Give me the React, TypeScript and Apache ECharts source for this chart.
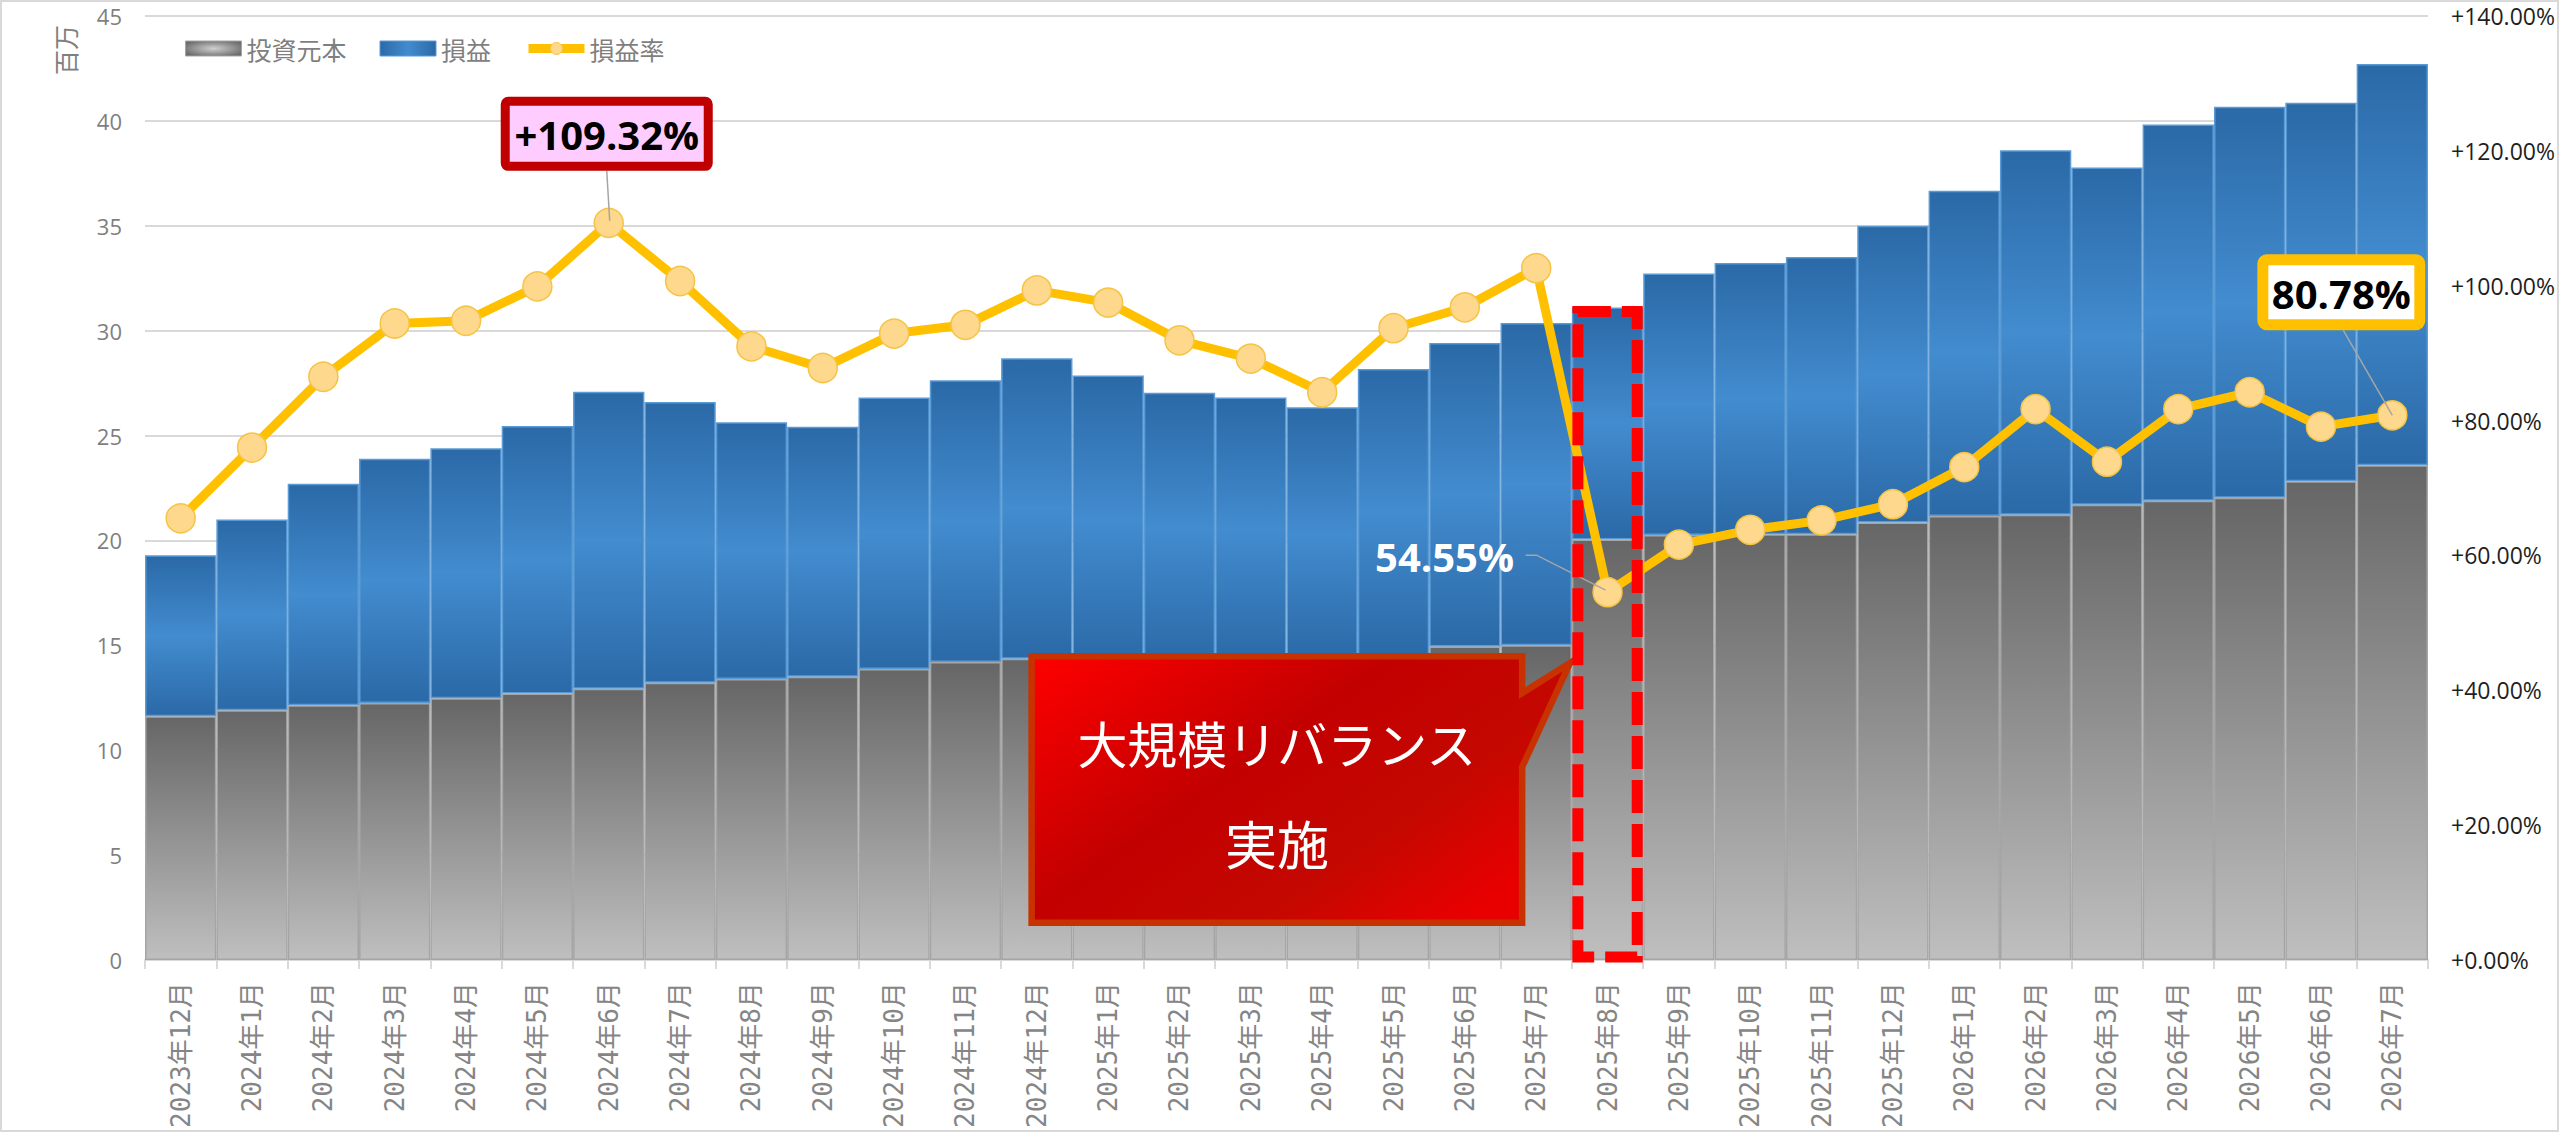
import React, { useEffect, useRef } from "react";
import * as echarts from "echarts";

// ---------- data ----------
const categories = [
  "2023年12月",
  "2024年1月", "2024年2月", "2024年3月", "2024年4月", "2024年5月", "2024年6月",
  "2024年7月", "2024年8月", "2024年9月", "2024年10月", "2024年11月", "2024年12月",
  "2025年1月", "2025年2月", "2025年3月", "2025年4月", "2025年5月", "2025年6月",
  "2025年7月", "2025年8月", "2025年9月", "2025年10月", "2025年11月", "2025年12月",
  "2026年1月", "2026年2月", "2026年3月", "2026年4月", "2026年5月", "2026年6月",
  "2026年7月",
];

// 投資元本 (百万)
const principal = [
  11.62, 11.91, 12.14, 12.25, 12.48, 12.7, 12.93, 13.22, 13.4, 13.5, 13.87, 14.2, 14.36,
  14.11, 14.09, 14.17, 14.3, 14.54, 14.95, 15.0, 20.05, 20.26, 20.29, 20.29, 20.85,
  21.16, 21.23, 21.7, 21.89, 22.04, 22.82, 23.59,
];

// 損益 (百万)
const profit = [
  7.67, 9.09, 10.56, 11.65, 11.92, 12.75, 14.16, 13.38, 12.24, 11.92, 12.95, 13.44, 14.32,
  13.75, 12.95, 12.65, 12.05, 13.63, 14.46, 15.36, 11.06, 12.47, 12.93, 13.22, 14.15,
  15.51, 17.37, 16.08, 17.94, 18.63, 18.04, 19.12,
];

// 損益率 (%)
const profitRate = [
  65.5, 76.0, 86.5, 94.4, 94.8, 99.9, 109.32, 100.7, 91.0, 87.8, 92.9, 94.2, 99.3,
  97.5, 91.9, 89.2, 84.2, 93.7, 96.8, 102.6, 54.55, 61.6, 63.8, 65.2, 67.6,
  73.1, 81.7, 73.9, 81.7, 84.2, 79.1, 80.78,
];

const leftAxis = { min: 0, max: 45, interval: 5 };
const rightAxis = { min: 0, max: 140, interval: 20 };
const peakIndex = 6;
const rebalanceIndex = 20;
const lastIndex = categories.length - 1;

const legendNames = ["投資元本", "損益", "損益率"];
const calloutLines = ["大規模リバランス", "実施"];

const NUM_FONT = "'Open Sans', 'Noto Sans', sans-serif";
const JP_FONT = "'Noto Sans CJK JP', 'Noto Sans', sans-serif";
const CAT_FONT = "'DejaVu Sans Mono', 'Noto Sans CJK JP', monospace";

export default function App() {
  const ref = useRef<HTMLDivElement>(null);

  useEffect(() => {
    if (!ref.current) return;
    const chart = echarts.init(ref.current, undefined, { renderer: "svg" });

    const grayGrad = new echarts.graphic.LinearGradient(0, 0, 0, 1, [
      { offset: 0, color: "#666666" },
      { offset: 1, color: "#bfbfbf" },
    ]);
    const blueGrad = new echarts.graphic.LinearGradient(0, 0, 0, 1, [
      { offset: 0, color: "#2b69a7" },
      { offset: 0.5, color: "#428ccf" },
      { offset: 1, color: "#2b69a7" },
    ]);
    const grayLegendGrad = new echarts.graphic.RadialGradient(0.5, 0.5, 0.6, [
      { offset: 0, color: "#cfcfcf" },
      { offset: 1, color: "#6a6a6a" },
    ]);
    const blueLegendGrad = new echarts.graphic.LinearGradient(0, 0, 1, 0, [
      { offset: 0, color: "#2b69a7" },
      { offset: 0.5, color: "#428ccf" },
      { offset: 1, color: "#2b69a7" },
    ]);

    chart.setOption({
      animation: false,
      backgroundColor: "#ffffff",
      grid: { left: 145, right: 132, top: 16, bottom: 174, containLabel: false },
      legend: {
        left: 185,
        top: 36,
        padding: 0,
        itemWidth: 56,
        itemHeight: 15,
        itemGap: 33,
        textStyle: { color: "#7f7f7f", fontSize: 25, fontFamily: JP_FONT },
        data: [
          { name: legendNames[0], icon: "rect", itemStyle: { color: grayLegendGrad, borderColor: "#a5a5a5", borderWidth: 1 } },
          { name: legendNames[1], icon: "rect", itemStyle: { color: blueLegendGrad, borderColor: "#5b9bd5", borderWidth: 1 } },
          {
            name: legendNames[2],
            lineStyle: { color: "#ffc000", width: 9 },
            itemStyle: { color: "#fed88c", borderColor: "#f6c445", borderWidth: 1 },
          },
        ],
      },
      xAxis: {
        type: "category",
        data: categories,
        boundaryGap: true,
        axisLine: { lineStyle: { color: "#d9d9d9", width: 2 } },
        axisTick: { show: true, length: 9, lineStyle: { color: "#d9d9d9", width: 2 } },
        axisLabel: {
          interval: 0,
          rotate: 90,
          margin: 22,
          color: "#858585",
          fontSize: 26,
          fontFamily: CAT_FONT,
        },
      },
      yAxis: [
        {
          type: "value",
          min: leftAxis.min,
          max: leftAxis.max,
          interval: leftAxis.interval,
          axisLine: { show: false },
          axisTick: { show: false },
          splitLine: { lineStyle: { color: "#d9d9d9", width: 2 } },
          axisLabel: { color: "#7f7f7f", fontSize: 22, margin: 23, fontFamily: NUM_FONT },
        },
        {
          type: "value",
          min: rightAxis.min,
          max: rightAxis.max,
          interval: rightAxis.interval,
          axisLine: { show: false },
          axisTick: { show: false },
          splitLine: { show: false },
          axisLabel: {
            color: "#1f1f1f",
            fontSize: 23,
            margin: 23,
            fontFamily: NUM_FONT,
            formatter: (v: number) => "+" + v.toFixed(2) + "%",
          },
        },
      ],
      series: [
        {
          name: legendNames[0],
          type: "bar",
          stack: "total",
          barWidth: "100%",
          barCategoryGap: "0%",
          data: principal,
          itemStyle: { color: grayGrad, borderColor: "#a5a5a5", borderWidth: 1.5 },
          z: 2,
        },
        {
          name: legendNames[1],
          type: "bar",
          stack: "total",
          barWidth: "100%",
          barCategoryGap: "0%",
          data: profit,
          itemStyle: { color: blueGrad, borderColor: "#5b9bd5", borderWidth: 1.5 },
          z: 2,
        },
        {
          name: legendNames[2],
          type: "line",
          yAxisIndex: 1,
          data: profitRate,
          symbol: "circle",
          symbolSize: 29,
          lineStyle: { color: "#ffc000", width: 9 },
          itemStyle: { color: "#fed88c", borderColor: "#f6c445", borderWidth: 1.5 },
          z: 5,
        },
      ],
    });

    // ---------- annotations anchored on data positions ----------
    const pr = (k: number, v: number) =>
      chart.convertToPixel({ xAxisIndex: 0, yAxisIndex: 1 }, [k, v]) as number[];
    const pl = (k: number, v: number) =>
      chart.convertToPixel({ xAxisIndex: 0, yAxisIndex: 0 }, [k, v]) as number[];
    const half = (pl(1, 0)[0] - pl(0, 0)[0]) / 2;
    const baseY = pl(0, 0)[1];
    const fmt = (v: number) => v.toFixed(2) + "%";

    const graphics: any[] = [];

    // chart border
    graphics.push({
      type: "rect",
      shape: { x: 1, y: 1, width: 2557, height: 1130 },
      style: { fill: null, stroke: "#d9d9d9", lineWidth: 2 },
      silent: true,
      z: 0,
    });

    // axis unit
    graphics.push({
      type: "text",
      x: 65,
      y: 50,
      rotation: Math.PI / 2,
      style: {
        text: "百万",
        fill: "#7f7f7f",
        fontSize: 25,
        fontFamily: JP_FONT,
        align: "center",
        verticalAlign: "middle",
      },
    });

    // peak label
    const pk = pr(peakIndex, profitRate[peakIndex]);
    const pkCx = pk[0] - 2;
    const pkCy = pk[1] - 89;
    graphics.push({
      type: "line",
      shape: { x1: pkCx, y1: pkCy + 37, x2: pk[0] + 1, y2: pk[1] - 2 },
      style: { stroke: "#a6a6a6", lineWidth: 1.5 },
      z: 50,
    });
    graphics.push({
      type: "rect",
      shape: { x: pkCx - 101.5, y: pkCy - 32.5, width: 203, height: 65, r: 3 },
      style: { fill: "#ffccff", stroke: "#c00000", lineWidth: 9 },
      z: 50,
    });
    graphics.push({
      type: "text",
      x: pkCx,
      y: pkCy + 1,
      style: {
        text: "+" + fmt(profitRate[peakIndex]),
        fill: "#000000",
        fontSize: 40,
        fontWeight: "bold",
        fontFamily: NUM_FONT,
        align: "center",
        verticalAlign: "middle",
      },
      z: 51,
    });

    // last label
    const ls = pr(lastIndex, profitRate[lastIndex]);
    const lsCx = ls[0] - 51;
    const lsCy = ls[1] - 123;
    graphics.push({
      type: "line",
      shape: { x1: lsCx + 2, y1: lsCy + 38, x2: ls[0], y2: ls[1] },
      style: { stroke: "#a6a6a6", lineWidth: 1.5 },
      z: 50,
    });
    graphics.push({
      type: "rect",
      shape: { x: lsCx - 78.5, y: lsCy - 32.5, width: 157, height: 65, r: 4 },
      style: { fill: "#ffffff", stroke: "#ffc000", lineWidth: 11 },
      z: 50,
    });
    graphics.push({
      type: "text",
      x: lsCx,
      y: lsCy + 1,
      style: {
        text: fmt(profitRate[lastIndex]),
        fill: "#000000",
        fontSize: 40,
        fontWeight: "bold",
        fontFamily: NUM_FONT,
        align: "center",
        verticalAlign: "middle",
      },
      z: 51,
    });

    // rebalance point label
    const rb = pr(rebalanceIndex, profitRate[rebalanceIndex]);
    graphics.push({
      type: "polyline",
      shape: {
        points: [
          [rb[0] - 82, rb[1] - 37],
          [rb[0] - 71, rb[1] - 37],
          [rb[0] - 2, rb[1] - 2],
        ],
      },
      style: { fill: null, stroke: "#a6a6a6", lineWidth: 1.5 },
      z: 50,
    });
    graphics.push({
      type: "text",
      x: rb[0] - 163,
      y: rb[1] - 36,
      style: {
        text: fmt(profitRate[rebalanceIndex]),
        fill: "#ffffff",
        fontSize: 40,
        fontWeight: "bold",
        fontFamily: NUM_FONT,
        align: "center",
        verticalAlign: "middle",
      },
      z: 51,
    });

    // dashed highlight around rebalance month
    const rbLeft = rb[0] - half;
    const rbRight = rb[0] + half;
    const rbTop = pl(rebalanceIndex, principal[rebalanceIndex] + profit[rebalanceIndex])[1] + 4;
    graphics.push({
      type: "rect",
      shape: { x: rbLeft + 6, y: rbTop, width: rbRight - rbLeft - 12, height: baseY - 3 - rbTop },
      style: { fill: null, stroke: "#ff0000", lineWidth: 11, lineDash: [33, 11] },
      z: 60,
    });

    // callout
    const cRight = rbLeft - 46.5;
    const cLeft = cRight - 497;
    const cTop = baseY - 307;
    const cBottom = baseY - 34;
    const tipX = rbLeft - 2;
    const tipY = baseY - 297;
    const calloutGrad = new echarts.graphic.LinearGradient(0, 0, 1, 0.7, [
      { offset: 0, color: "#ff0000" },
      { offset: 0.45, color: "#c30000" },
      { offset: 0.75, color: "#c40800" },
      { offset: 1, color: "#e80000" },
    ]);
    const ins = 3.25;
    graphics.push({
      type: "polygon",
      shape: {
        points: [
          [cLeft + ins, cTop + ins],
          [cRight - ins, cTop + ins],
          [cRight - ins, cTop + 40],
          [tipX, tipY],
          [cRight - ins, cTop + 114],
          [cRight - ins, cBottom - ins],
          [cLeft + ins, cBottom - ins],
        ],
      },
      style: { fill: calloutGrad, stroke: "#c83200", lineWidth: 6.5, lineJoin: "miter" },
      z: 55,
    });
    const cCx = (cLeft + cRight) / 2;
    graphics.push({
      type: "text",
      x: cCx,
      y: cTop + 89,
      style: {
        text: calloutLines[0],
        fill: "#ffffff",
        fontSize: 50,
        fontFamily: JP_FONT,
        align: "center",
        verticalAlign: "middle",
      },
      z: 56,
    });
    graphics.push({
      type: "text",
      x: cCx,
      y: cTop + 189,
      style: {
        text: calloutLines[1],
        fill: "#ffffff",
        fontSize: 52,
        fontFamily: JP_FONT,
        align: "center",
        verticalAlign: "middle",
      },
      z: 56,
    });

    chart.setOption({ graphic: graphics });

    return () => chart.dispose();
  }, []);

  return (
    <div
      ref={ref}
      style={{ position: "fixed", left: 0, top: 0, width: 2560, height: 1134, background: "#fff" }}
    />
  );
}
